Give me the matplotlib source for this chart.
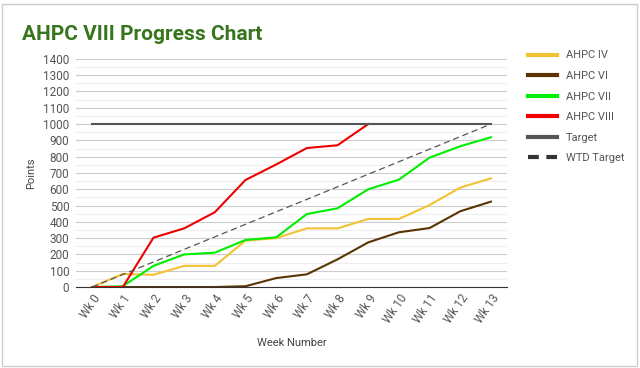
import matplotlib.pyplot as plt
from matplotlib.ticker import MultipleLocator
from matplotlib.patches import Rectangle

plt.rcParams['font.family'] = ['Roboto', 'DejaVu Sans']

weeks = ["Wk %d" % i for i in range(14)]
ahpc_iv = [0, 80, 75, 130, 130, 285, 300, 360, 360, 418, 418, 503, 610, 667]
ahpc_vi = [0, 0, 0, 0, 0, 5, 55, 78, 170, 274, 336, 362, 465, 524]
ahpc_vii = [0, 5, 130, 200, 211, 289, 305, 448, 483, 600, 659, 794, 864, 919]
ahpc_viii = [0, 0, 303, 360, 459, 657, 752, 853, 870, 1000]
target = [1000] * 14
wtd_target = [0, 77, 154, 231, 308, 385, 462, 538, 615, 692, 769, 846, 923, 1000]

fig = plt.figure(figsize=(6.4, 3.68), dpi=100)
ax = fig.add_axes([0.119, 0.22, 0.673, 0.62])

x = list(range(len(weeks)))
ax.plot(x, ahpc_iv, color="#f1c232", lw=1.5, label="AHPC IV")
ax.plot(x, ahpc_vi, color="#5b3303", lw=1.5, label="AHPC VI")
ax.plot(x, ahpc_vii, color="#00ee00", lw=1.5, label="AHPC VII")
ax.plot(x[:len(ahpc_viii)], ahpc_viii, color="#ee0000", lw=1.5, label="AHPC VIII")
ax.plot(x, target, color="#555555", lw=1.5, label="Target")
ax.plot(x, wtd_target, color="#555555", lw=0.9, ls=(0, (5, 3)), label="WTD Target")

ax.set_xlim(-0.52, 13.52)
ax.set_ylim(0, 1400)
ax.yaxis.set_major_locator(MultipleLocator(100))
ax.yaxis.set_minor_locator(MultipleLocator(50))
ax.grid(which="major", axis="y", color="#cccccc", lw=0.8)
ax.grid(which="minor", axis="y", color="#eeeeee", lw=0.8)
ax.set_axisbelow(True)
for s in ["top", "right", "left"]:
    ax.spines[s].set_visible(False)
ax.spines["bottom"].set_color("#333333")
ax.tick_params(axis="both", which="both", length=0, colors="#555555", labelsize=8.5)
ax.tick_params(axis="y", pad=5)
ax.set_xticks(x)
ax.set_xticklabels(weeks, rotation=55, ha="right", rotation_mode="anchor")

ax.set_xlabel("Week Number", color="#444444", fontsize=8, labelpad=9)
ax.set_ylabel("Points", color="#444444", fontsize=8, labelpad=5)

fig.text(0.034, 0.905, "AHPC VIII Progress Chart", color="#38761d",
         fontsize=15, fontweight="bold", va="center")

leg_handles, leg_labels = ax.get_legend_handles_labels()
leg = fig.legend(leg_handles, leg_labels, loc="upper left", bbox_to_anchor=(0.81, 0.89),
                 frameon=False, fontsize=8, labelcolor="#555555", handlelength=2.6,
                 labelspacing=0.95)
for line in leg.get_lines():
    line.set_linewidth(3)
leg.get_lines()[-1].set_color("#333333")
leg.get_lines()[-1].set_linestyle((0, (2.6, 1.8)))

fig.patches.append(Rectangle((0.003, 0.005), 0.992, 0.985, transform=fig.transFigure,
                             fill=False, edgecolor="#cccccc", lw=1))

fig.savefig("out.png", dpi=100)
